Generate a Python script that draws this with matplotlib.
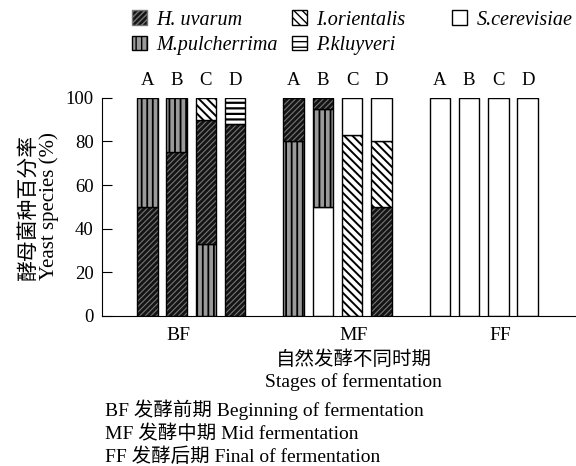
import matplotlib

matplotlib.use("Agg")
import matplotlib.pyplot as plt  # noqa: E402
from matplotlib.patches import Patch  # noqa: E402

# ---- data (percent of yeast species, stacked bottom -> top) ----
stages = ["BF", "MF", "FF"]
samples = ["A", "B", "C", "D"]
species = ["H. uvarum", "M.pulcherrima", "I.orientalis", "P.kluyveri", "S.cerevisiae"]

bf_bars = [
    [("H. uvarum", 50), ("M.pulcherrima", 50)],
    [("H. uvarum", 75), ("M.pulcherrima", 25)],
    [("M.pulcherrima", 33), ("H. uvarum", 57), ("I.orientalis", 10)],
    [("H. uvarum", 88), ("P.kluyveri", 12)],
]
mf_bars = [
    [("M.pulcherrima", 80), ("H. uvarum", 20)],
    [("S.cerevisiae", 50), ("M.pulcherrima", 45), ("H. uvarum", 5)],
    [("I.orientalis", 83), ("S.cerevisiae", 17)],
    [("H. uvarum", 50), ("I.orientalis", 30), ("S.cerevisiae", 20)],
]
ff_bars = [
    [("S.cerevisiae", 100)],
    [("S.cerevisiae", 100)],
    [("S.cerevisiae", 100)],
    [("S.cerevisiae", 100)],
]
stage_notes = [
    "BF 发酵前期 Beginning of fermentation",
    "MF 发酵中期 Mid fermentation",
    "FF 发酵后期 Final of fermentation",
]

# ---- styles: (face, hatch, hatch colour, hatch linewidth) ----
STYLE = {
    "H. uvarum": ("#141414", "//////", "#767676", 0.8),
    "M.pulcherrima": ("#9a9a9a", "|||", "#000000", 1.3),
    "I.orientalis": ("white", "\\\\\\\\", "#000000", 1.4),
    "P.kluyveri": ("white", "---", "#000000", 1.6),
    "S.cerevisiae": ("white", "", "#000000", 1.0),
}
SERIF = ["Liberation Serif", "Noto Sans CJK SC", "DejaVu Sans"]
plt.rcParams["font.family"] = SERIF

GROUP_STEP, WIDTH = 5, 0.7
LABEL_POS = [1.05, 7.05, 12.05]
LEGEND_X = [0.229, 0.507, 0.785]     # left edge of each legend column (fig)


def main():
    fig = plt.figure(figsize=(5.76, 4.66), dpi=100)
    ax = fig.add_axes([0.177, 0.322, 0.823, 0.468])

    for g, bars in enumerate([bf_bars, mf_bars, ff_bars]):
        for i, segs in enumerate(bars):
            x = g * GROUP_STEP + i
            bottom = 0
            for name, val in segs:
                fc, hatch, hc, hlw = STYLE[name]
                with plt.rc_context({"hatch.linewidth": hlw}):
                    ax.bar(x, val, bottom=bottom, width=WIDTH, color=fc,
                           hatch=hatch, edgecolor=hc, linewidth=0)
                ax.bar(x, val, bottom=bottom, width=WIDTH, fill=False,
                       edgecolor="black", linewidth=1.0)
                bottom += val
            ax.text(x, 104, samples[i], ha="center", va="bottom", fontsize=13.5)

    ax.set_ylim(0, 100)
    ax.set_xlim(-1.55, 14.65)
    ax.set_yticks(range(0, 101, 20))
    ax.tick_params(axis="y", direction="in", length=7, labelsize=13.5, pad=6)
    ax.set_xticks(LABEL_POS)
    ax.set_xticklabels(stages, fontsize=14)
    ax.tick_params(axis="x", length=0, pad=8)
    for s in ("top", "right"):
        ax.spines[s].set_visible(False)

    fig.text(0.050, 0.557, "酵母菌种百分率", rotation=90, ha="center",
             va="center", fontsize=15)
    fig.text(0.085, 0.557, "Yeast species (%)", rotation=90, ha="center",
             va="center", fontsize=15)

    fig.text(0.615, 0.228, "自然发酵不同时期", ha="center", va="center",
             fontsize=14)
    fig.text(0.613, 0.180, "Stages of fermentation", ha="center",
             va="center", fontsize=14)
    for k, note in enumerate(stage_notes):
        fig.text(0.182, 0.120 - k * 0.050, note, ha="left", va="center",
                 fontsize=14)

    # legend: three columns placed by hand (H, M), (I, P), (S)
    columns = [[0, 1], [2, 3], [4]]
    for col, xl in zip(columns, LEGEND_X):
        handles = []
        for i in col:
            fc, hatch, hc, hlw = STYLE[species[i]]
            with plt.rc_context({"hatch.linewidth": hlw}):
                handles.append(Patch(facecolor=fc, hatch=hatch,
                                     edgecolor="black" if not hatch else hc,
                                     linewidth=1.0))
        fig.legend(handles, [species[i] for i in col], loc="upper left",
                   bbox_to_anchor=(xl, 0.978), frameon=False,
                   borderpad=0, borderaxespad=0,
                   handlelength=0.75, handleheight=0.75, handletextpad=0.45,
                   labelspacing=0.3,
                   prop={"family": SERIF, "style": "italic", "size": 14.5})

    fig.savefig("out.png", dpi=100)


if __name__ == "__main__":
    main()
